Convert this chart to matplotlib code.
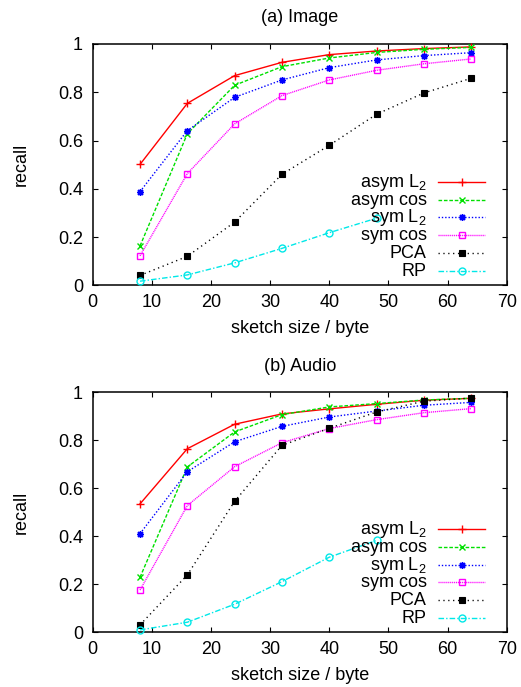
import matplotlib
matplotlib.use("Agg")
import matplotlib.pyplot as plt
from matplotlib.lines import Line2D
from matplotlib.transforms import offset_copy

plt.rcParams['font.family'] = ['Liberation Sans', 'DejaVu Sans']
plt.rcParams['mathtext.default'] = 'regular'
FS = 13
plt.rcParams['font.size'] = FS

# sketch sizes in bytes
sizes = [8, 16, 24, 32, 40, 48, 56, 64]
rp_sizes = [8, 16, 24, 32, 40, 48]

# (a) Image
img_asym_l2 = [0.501, 0.754, 0.869, 0.924, 0.956, 0.971, 0.981, 0.988]
img_asym_cos = [0.163, 0.628, 0.829, 0.906, 0.942, 0.965, 0.978, 0.986]
img_sym_l2 = [0.388, 0.641, 0.779, 0.851, 0.902, 0.934, 0.952, 0.964]
img_sym_cos = [0.122, 0.463, 0.669, 0.786, 0.851, 0.891, 0.918, 0.938]
img_pca = [0.041, 0.120, 0.262, 0.460, 0.580, 0.709, 0.797, 0.858]
img_rp = [0.017, 0.043, 0.093, 0.153, 0.218, 0.278]

# (b) Audio
aud_asym_l2 = [0.535, 0.765, 0.867, 0.910, 0.931, 0.950, 0.967, 0.975]
aud_asym_cos = [0.229, 0.689, 0.835, 0.907, 0.939, 0.953, 0.968, 0.975]
aud_sym_l2 = [0.411, 0.669, 0.794, 0.858, 0.897, 0.922, 0.946, 0.958]
aud_sym_cos = [0.176, 0.528, 0.690, 0.790, 0.849, 0.886, 0.915, 0.932]
aud_pca = [0.031, 0.239, 0.546, 0.779, 0.850, 0.918, 0.963, 0.976]
aud_rp = [0.010, 0.042, 0.117, 0.211, 0.313, 0.383]

labels = ['asym L$_2$', 'asym cos', 'sym L$_2$', 'sym cos', 'PCA', 'RP']
titles = ['(a) Image', '(b) Audio']
x_ticks = [0, 10, 20, 30, 40, 50, 60, 70]
y_ticks = [0, 0.2, 0.4, 0.6, 0.8, 1]
y_ticklabels = ['0', '0.2', '0.4', '0.6', '0.8', '1']

styles = [
    dict(color='#ff0000', linestyle='-', marker='+', ms=6, mew=1.0, mfc='none'),
    dict(color='#00e000', linestyle=(0, (2.6, 1.3)), marker='x', ms=5, mew=1.0, mfc='none'),
    dict(color='#0000ff', linestyle=(0, (1.0, 1.4)), marker=(8, 2, 0), ms=5, mew=1.0, mfc='none'),
    dict(color='#ff00ff', linestyle=(0, (0.8, 0.6)), marker='s', ms=5, mew=1.0, mfc='none'),
    dict(color='#000000', linestyle=(0, (0.9, 2.6)), marker='s', ms=5, mew=0.8, mfc='#000000'),
    dict(color='#00e8e8', linestyle=(0, (4.0, 1.5, 1.0, 1.5)), marker='o', ms=5, mew=1.0, mfc='none'),
]

W, H = 521, 687
fig = plt.figure(figsize=(W / 100, H / 100), dpi=100)

ax_left, ax_right = 92.7, 506.7
panels = [
    (44.0, 285.3, [img_asym_l2, img_asym_cos, img_sym_l2, img_sym_cos, img_pca, img_rp]),
    (392.3, 632.3, [aud_asym_l2, aud_asym_cos, aud_sym_l2, aud_sym_cos, aud_pca, aud_rp]),
]

for (top, bottom, series), title in zip(panels, titles):
    ax = fig.add_axes([ax_left / W, 1 - bottom / H, (ax_right - ax_left) / W, (bottom - top) / H])
    ax_h = bottom - top
    ax_w = ax_right - ax_left
    for i, (vals, st) in enumerate(zip(series, styles)):
        xs = rp_sizes if i == 5 else sizes
        ax.plot(xs, vals, lw=1.0, clip_on=False, zorder=3, **st)

    ax.set_xlim(0, 70)
    ax.set_ylim(0, 1)
    ax.set_xticks(x_ticks)
    ax.set_yticks(y_ticks)
    ax.set_yticklabels(y_ticklabels)
    ax.tick_params(direction='in', length=3.5, width=0.8, top=True, right=True,
                   labelsize=FS)
    ax.tick_params(axis='x', pad=6.5)
    ax.tick_params(axis='y', pad=7.0)
    for sp in ax.spines.values():
        sp.set_linewidth(1.1)

    ax.set_xlabel('sketch size / byte', fontsize=FS, va='center')
    ax.xaxis.set_label_coords(0.5, -43.5 / ax_h)
    ax.set_ylabel('recall', fontsize=FS, va='center')
    ax.yaxis.set_label_coords(-71.7 / ax_w, 0.5)
    ax.text(0.5, 1 + 26.0 / ax_h, title, transform=ax.transAxes,
            ha='center', va='center', fontsize=FS)

    # key: right-aligned labels with sample lines to their right
    row0, step = 0.429, 0.0738
    text_x = (426.7 - ax_left) / ax_w
    line_x0 = (438.0 - ax_left) / ax_w
    line_x1 = (485.0 - ax_left) / ax_w
    mark_x = (461.7 - ax_left) / ax_w
    for k, (lab, st) in enumerate(zip(labels, styles)):
        y = row0 - k * step
        ax.add_line(Line2D([line_x0, line_x1], [y, y], transform=ax.transAxes,
                           color=st['color'], linestyle=st['linestyle'], lw=1.0,
                           clip_on=False, zorder=4))
        ax.add_line(Line2D([mark_x], [y], transform=ax.transAxes,
                           color=st['color'], marker=st['marker'], ms=st['ms'],
                           mew=st['mew'], mfc=st['mfc'], linestyle='none',
                           clip_on=False, zorder=4))
        tr = offset_copy(ax.transAxes, fig=fig, x=0, y=-3.6, units='points')
        ax.text(text_x, y, lab, transform=tr, ha='right', va='baseline',
                fontsize=FS, zorder=5)

fig.savefig('out.png', dpi=100)
